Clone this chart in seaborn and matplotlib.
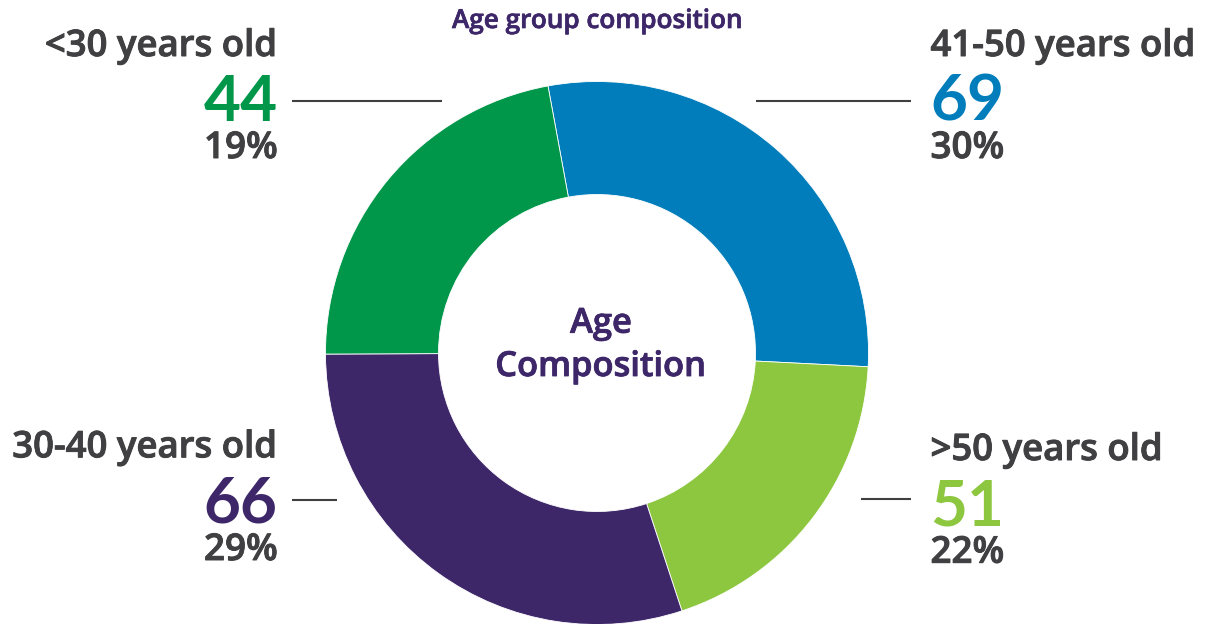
import matplotlib
matplotlib.use("Agg")
import matplotlib.pyplot as plt
import matplotlib.patheffects as pe
import seaborn as sns

sns.set_theme(style="white")
plt.rcParams['font.family'] = ['Open Sans', 'DejaVu Sans']

# ---- data ----
title = "Age group composition"
center_label = ["Age", "Composition"]
# clockwise from the top, as drawn
arc_categories = ["41-50 years old", ">50 years old", "30-40 years old", "<30 years old"]
arc_values = [66, 44, 69, 51]          # wedge sizes as drawn in the ring
arc_colors = ["#007DBA", "#8DC63F", "#3D2769", "#00974A"]

label_categories = ["<30 years old", "41-50 years old", "30-40 years old", ">50 years old"]
label_counts = [44, 69, 66, 51]
label_percents = ["19%", "30%", "29%", "22%"]
label_colors = ["#00974A", "#007DBA", "#3D2769", "#8DC63F"]

W, H = 1213, 624
fig = plt.figure(figsize=(W / 100, H / 100), dpi=100)
ax = fig.add_axes([0, 0, 1, 1])

palette = sns.color_palette(arc_colors)
cx, cy = 597, H - 353
R_out, R_in = 271.5, 158.5
ax.pie(arc_values, colors=palette, startangle=100.4, counterclock=False,
       radius=R_out, center=(cx, cy),
       wedgeprops=dict(width=R_out - R_in, edgecolor="white", linewidth=0.6))
ax.set_xlim(0, W)
ax.set_ylim(0, H)
ax.set_aspect("auto")
ax.axis("off")

gray = "#404042"
purple = "#3D2769"
wt = 600


def semi(color, lw):
    return [pe.Stroke(linewidth=lw, foreground=color), pe.Normal()]


ax.text(597, H - 28, title, ha="center", va="baseline", fontsize=18.8,
        fontweight=wt, color=purple, path_effects=semi(purple, 0.5))
ax.text(601, H - 332.7, center_label[0], ha="center", va="baseline", fontsize=24.8,
        fontweight=wt, color=purple, path_effects=semi(purple, 0.6))
ax.text(601, H - 376, center_label[1], ha="center", va="baseline", fontsize=24.8,
        fontweight=wt, color=purple, path_effects=semi(purple, 0.6))

# label blocks: (x anchor, ha, label baseline, number baseline, pct baseline, line y, line x0, line x1)
blocks = [
    (277.5, "right", 56, 120.7, 158, 100.7, 292, 442),
    (930.5, "left", 56, 120.7, 158, 100.7, 756, 911),
    (277.5, "right", 457.3, 522.7, 560, 500, 292, 337),
    (930.5, "left", 460, 525, 562.7, 499.3, 861, 911),
]
for i, (x, ha, yl, yn, yp, ly, lx0, lx1) in enumerate(blocks):
    ax.text(x, H - yl, label_categories[i], ha=ha, va="baseline", fontsize=26.3,
            fontweight=wt, color=gray, path_effects=semi(gray, 0.7))
    ax.text(x, H - yn, str(label_counts[i]), ha=ha, va="baseline", fontsize=46,
            fontweight="bold", color=label_colors[i], family=["Lato", "DejaVu Sans"])
    ax.text(x, H - yp, label_percents[i], ha=ha, va="baseline", fontsize=26.5,
            fontweight=wt, color=gray, path_effects=semi(gray, 0.7))
    ax.plot([lx0, lx1], [H - ly, H - ly], color=gray, linewidth=1.5,
            solid_capstyle="butt")

fig.savefig("out.png", dpi=100)
